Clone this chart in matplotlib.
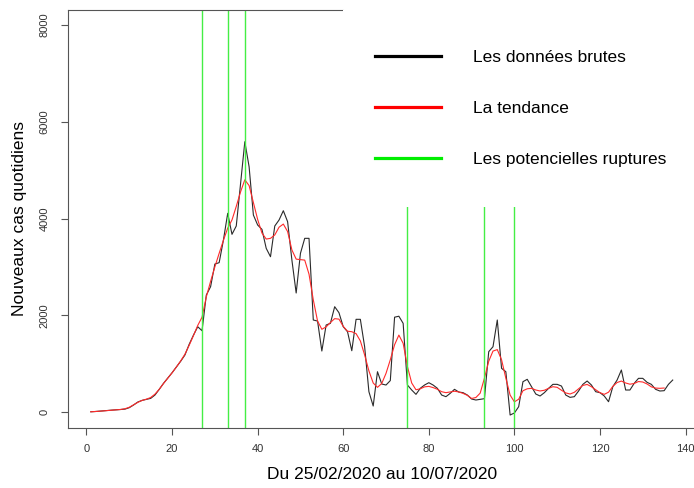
import numpy as np
import matplotlib.pyplot as plt
from matplotlib.patches import Rectangle

plt.rcParams['font.family'] = ['Liberation Sans', 'DejaVu Sans']

# nouveaux cas quotidiens, jour 1 = 25/02/2020
cas = [5, 10, 18, 25, 32, 40, 45, 52, 60, 90,
       145, 207, 241, 262, 282, 351, 469, 593, 703, 812,
       930, 1048, 1178, 1400, 1590, 1763, 1680, 2418, 2590, 3059,
       3087, 3555, 4107, 3673, 3845, 4716, 5587, 5070, 4072, 3865,
       3776, 3383, 3210, 3845, 3969, 4161, 3934, 3142, 2460, 3280,
       3590, 3590, 1902, 1880, 1261, 1798, 1833, 2177, 2053, 1763,
       1660, 1267, 1916, 1916, 1350, 420, 124, 833, 579, 558,
       650, 1960, 1980, 1833, 558, 455, 365, 490, 558, 606,
       558, 490, 351, 317, 386, 469, 413, 400, 351, 269,
       248, 262, 276, 1247, 1350, 1902, 903, 833, -62, -20,
       110, 627, 676, 523, 372, 331, 400, 490, 572, 572,
       537, 351, 303, 317, 434, 572, 641, 558, 420, 400,
       331, 213, 523, 661, 868, 455, 455, 593, 696, 696,
       614, 572, 469, 434, 441, 572, 661]

# tendance lissee (jours 1 a 135)
tendance = [5, 10, 16, 23, 30, 38, 45, 53, 68, 98,
            148, 200, 240, 265, 300, 370, 470, 590, 700, 810,
            930, 1055, 1195, 1380, 1580, 1790, 1960, 2380, 2700, 3000,
            3280, 3550, 3800, 3970, 4250, 4550, 4800, 4680, 4330, 3980,
            3700, 3575, 3590, 3660, 3820, 3885, 3730, 3350, 3160, 3150,
            3140, 2850, 2320, 1880, 1710, 1760, 1850, 1930, 1920, 1770,
            1670, 1660, 1620, 1470, 1180, 850, 600, 510, 590, 800,
            1080, 1390, 1590, 1420, 940, 600, 460, 480, 520, 530,
            505, 470, 420, 400, 415, 430, 415, 385, 345, 280,
            300, 390, 700, 1050, 1260, 1290, 1080, 700, 350, 210,
            265, 440, 480, 490, 455, 435, 450, 490, 523, 510,
            450, 395, 372, 407, 480, 550, 570, 523, 460, 400,
            365, 410, 530, 610, 640, 600, 575, 590, 630, 620,
            580, 520, 495, 490, 496]

ruptures = [27, 33, 37, 75, 93, 100]

jours = np.arange(1, len(cas) + 1)
jours_t = np.arange(1, len(tendance) + 1)

W, H = 694, 488
fig = plt.figure(figsize=(W / 100, H / 100), dpi=100)
ax = fig.add_axes([67.5 / W, (H - 427.5) / H, (696 - 67.5) / W, (427.5 - 9.5) / H])

l1, = ax.plot(jours, cas, color='#2a2a2a', lw=0.8, label='Les données brutes')
l2, = ax.plot(jours_t, tendance, color='#ff2a2a', lw=0.8, label='La tendance')
for i, r in enumerate(ruptures):
    ax.axvline(r, color='#44ee44', lw=1.0,
               label='Les potencielles ruptures' if i == 0 else None)

ax.set_xlim(-4.44, 142.44)
ax.set_ylim(-320, 8320)

# fond blanc de la legende (masque le haut des ruptures)
ax.add_patch(Rectangle((60, 4237), 90, 5000, facecolor='white', edgecolor='none', zorder=3))

ax.set_xticks(range(0, 141, 20))
ax.set_yticks(range(0, 8001, 2000))
for s in ['left', 'bottom', 'top', 'right']:
    ax.spines[s].set_color('#555555')
    ax.spines[s].set_linewidth(0.8)
ax.spines['top'].set_bounds(-4.44, 60)
ax.tick_params(axis='both', direction='out', length=5, width=0.8, color='#555555',
               labelcolor='#333333', labelsize=8)
ax.tick_params(axis='x', pad=7)
ax.tick_params(axis='y', pad=8)
for lab in ax.get_yticklabels():
    lab.set_rotation(90)
    lab.set_va('center')

ax.set_xlabel('Du 25/02/2020 au 10/07/2020', fontsize=12.5, labelpad=9)
ax.set_ylabel('Nouveaux cas quotidiens', fontsize=12.5, labelpad=9)

leg = ax.legend(loc='upper left', bbox_to_anchor=(375 / W, (H - 50) / H),
                bbox_transform=fig.transFigure, frameon=False, fontsize=12.5,
                handlelength=3.8, handletextpad=1.85, labelspacing=2.05,
                borderpad=0, borderaxespad=0)
leg.set_zorder(5)
for ln, c in zip(leg.get_lines(), ['black', 'red', '#00ee00']):
    ln.set_linewidth(2.3)
    ln.set_color(c)

fig.savefig('out.png', dpi=100)
